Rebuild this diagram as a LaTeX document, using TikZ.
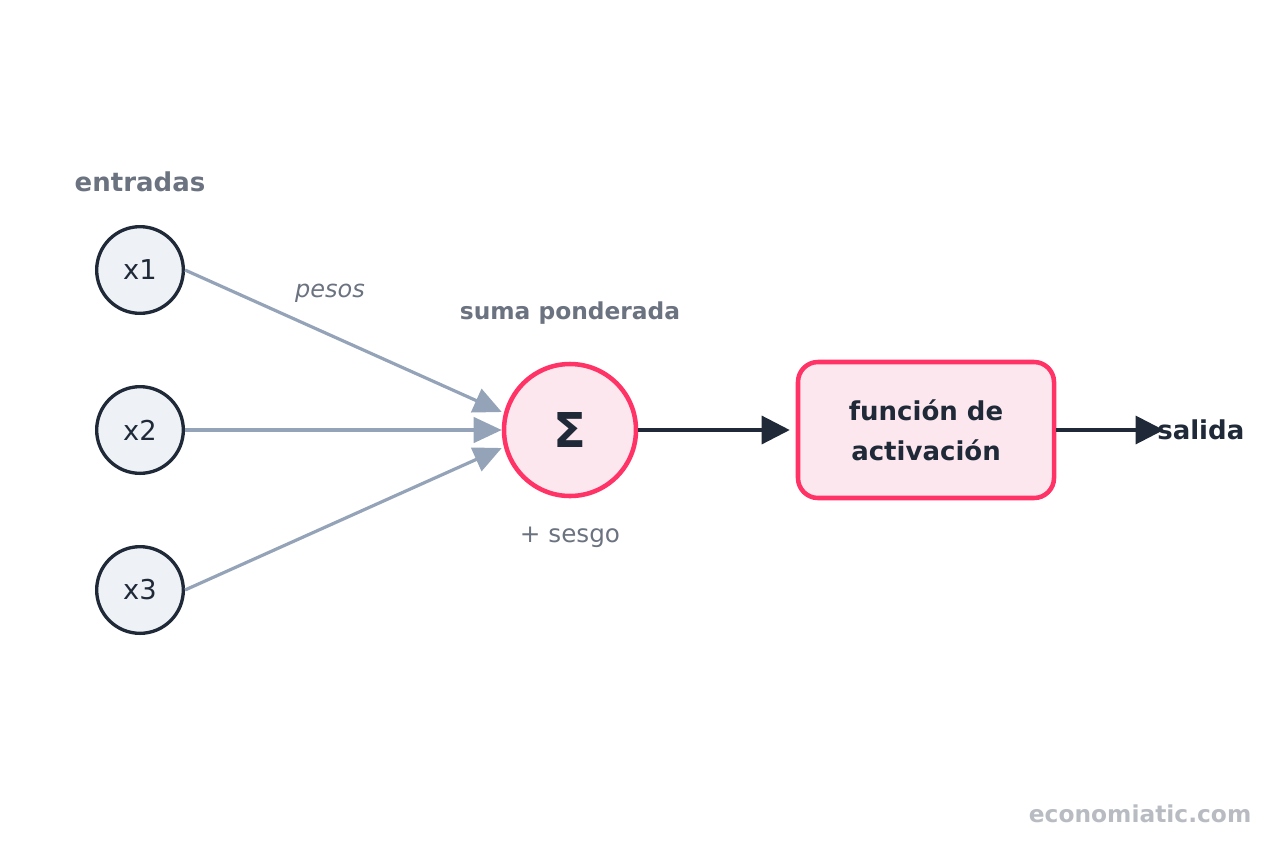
\documentclass[tikz,border=0pt]{standalone}
\usepackage{fontspec}
\setmainfont{DejaVu Sans}
\usetikzlibrary{arrows.meta,positioning}
\definecolor{tinta}{HTML}{1F2937}
\definecolor{grisrot}{HTML}{6B7280}
\definecolor{grisflecha}{HTML}{94A3B8}
\definecolor{fondoin}{HTML}{EEF2F7}
\definecolor{rosa}{HTML}{FF3366}
\definecolor{rosaclaro}{HTML}{FCE7EF}
\definecolor{marca}{HTML}{B8BCC2}

\begin{document}
\begin{tikzpicture}[x=0.75pt,y=-0.75pt,
  entrada/.style={circle, draw=tinta, line width=2.5pt, fill=fondoin, minimum size=65pt, inner sep=0pt, text=tinta, font=\fontsize{20.5}{24}\selectfont},
  rotulo/.style={text=grisrot, font=\bfseries\fontsize{17.5}{21}\selectfont},
  peso/.style={draw=grisflecha, line width=2.4pt, -{Triangle[length=21pt,width=19pt]}},
  flecha/.style={draw=tinta, line width=2.4pt, -{Triangle[length=21pt,width=21pt]}}]
\useasboundingbox (0,0) rectangle (1280,854);
% entradas
\foreach \i/\y in {1/270,2/430,3/590} {
  \node[entrada] (in\i) at (140,\y) {x\i};
}
\node[rotulo, font=\bfseries\fontsize{19.5}{23}\selectfont] (tentradas) at (140,182) {entradas};
% neurona
\node[circle, draw=rosa, line width=3.4pt, fill=rosaclaro, minimum size=99pt, inner sep=0pt,
  text=tinta, font=\bfseries\fontsize{36}{40}\selectfont] (suma) at (570,430) {Σ};
\node[rotulo] (tsuma) at (570,313) {suma ponderada};
\node[text=grisrot, font=\fontsize{18.5}{22}\selectfont] (sesgo) at (570,537) {+ sesgo};
\node[text=grisrot, font=\itshape\fontsize{18}{22}\selectfont] (pesos) at (330,293) {pesos};
\foreach \i/\d in {1/13.5pt,2/0pt,3/-13.5pt} {
  \draw[peso] (in\i.east) -- ([yshift=\d]suma.west);
}
% activacion y salida
\node[draw=rosa, line width=3.4pt, fill=rosaclaro, rounded corners=15pt, minimum width=192pt,
  minimum height=102pt, align=center, text=tinta, font=\bfseries\fontsize{19.5}{30}\selectfont]
  (activ) at (926,430) {función de\\activación};
\node[anchor=west, inner sep=0pt, text=tinta, font=\bfseries\fontsize{19.5}{23}\selectfont] (salida) at (1157,430) {salida};
\draw[flecha, shorten >=4.5pt] (suma) -- (activ);
\draw[flecha, shorten >=-5pt] (activ.east) -- (salida.west);
\node[anchor=east, text=marca, font=\bfseries\fontsize{17.5}{21}\selectfont] (web) at (1256,814) {economiatic.com};
\end{tikzpicture}
\end{document}
